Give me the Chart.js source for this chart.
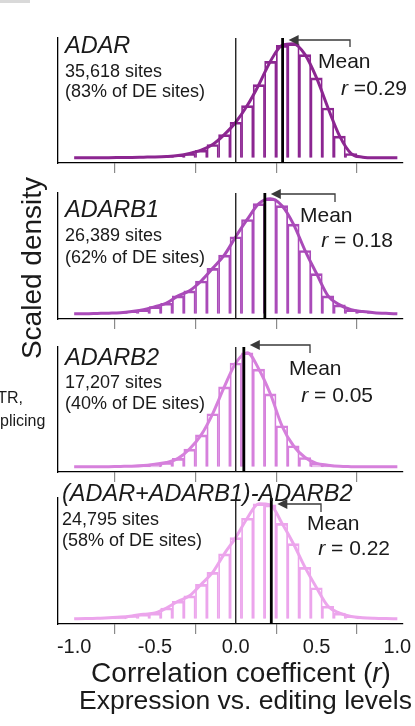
<!DOCTYPE html>
<html>
<head>
<meta charset="utf-8">
<script src="https://cdn.jsdelivr.net/npm/chart.js@4.4.1/dist/chart.umd.min.js"></script>
<style>
  html, body { margin: 0; padding: 0; background: #fff; }
  #wrap { position: relative; width: 415px; height: 726px; overflow: hidden; background: #fff; }
  #wrap canvas { position: absolute; left: 0; top: 0; }
</style>
</head>
<body>
<div id="wrap">
  <canvas id="p0" width="415" height="726"></canvas>
  <canvas id="p1" width="415" height="726"></canvas>
  <canvas id="p2" width="415" height="726"></canvas>
  <canvas id="p3" width="415" height="726"></canvas>
</div>
<script>
// Histogram bin centres (correlation coefficient r)
const binCenters = [-1.0, -0.929, -0.857, -0.786, -0.714, -0.643, -0.571, -0.5, -0.429, -0.357,
  -0.286, -0.214, -0.143, -0.071, 0, 0.071, 0.143, 0.214, 0.286, 0.357,
  0.429, 0.5, 0.571, 0.643, 0.714, 0.786, 0.857, 0.929, 1.0];

// Scaled densities per enzyme
const adar = [0, 0, 0, 0.002, 0.003, 0.004, 0.006, 0.008, 0.012, 0.02,
  0.038, 0.067, 0.117, 0.204, 0.312, 0.458, 0.641, 0.845, 0.985, 1.0,
  0.904, 0.70, 0.437, 0.19, 0.038, 0.006, 0, 0, 0];
const adarb1 = [0, 0, 0.003, 0.006, 0.01, 0.02, 0.035, 0.063, 0.092, 0.156,
  0.2, 0.285, 0.395, 0.51, 0.67, 0.82, 0.957, 1.0, 0.94, 0.78,
  0.55, 0.35, 0.156, 0.078, 0.035, 0.02, 0.01, 0.004, 0];
const adarb2 = [0, 0, 0, 0.002, 0.004, 0.006, 0.012, 0.024, 0.038, 0.074,
  0.156, 0.28, 0.465, 0.70, 0.91, 1.0, 0.856, 0.64, 0.36, 0.185,
  0.082, 0.03, 0.015, 0.005, 0.002, 0, 0, 0, 0];
const combined = [0, 0.002, 0.005, 0.01, 0.015, 0.025, 0.04, 0.05, 0.094, 0.153,
  0.2, 0.3, 0.403, 0.565, 0.706, 0.874, 1.0, 0.99, 0.83, 0.653,
  0.447, 0.27, 0.109, 0.05, 0.02, 0.01, 0.005, 0.002, 0];

const panelNames = ['ADAR', 'ADARB1', 'ADARB2', '(ADAR+ADARB1)-ADARB2'];
const siteCounts = ['35,618', '26,389', '17,207', '24,795'];
const sitePercents = [83, 62, 40, 58];
const meanR = [0.29, 0.18, 0.05, 0.22];
const xTicks = [-1.0, -0.5, 0, 0.5, 1.0];
const seriesList = [adar, adarb1, adarb2, combined];

const colors = ['#8c2691', '#aa4bb9', '#d680dc', '#eca5ec'];
const FONT = '"Liberation Sans", Arial, Helvetica, sans-serif';
const Y_MIN = -0.045, Y_MAX = 1.05;
const W = 415, H = 726;

// Panel placement and annotation anchors
const panels = [
  { top: 38,  bottom: 163, title: [65, 53],  sites: [65, 77],  pct: [65, 97],  mean: [318, 68],  r: [407, 95],  arrowY: 40,  bracketX: 350, drop: 7, eqSep: ' =' },
  { top: 193, bottom: 319, title: [65, 217], sites: [65, 241], pct: [65, 263], mean: [300, 222], r: [393, 247], arrowY: 194, bracketX: 335, drop: 8, eqSep: ' = ' },
  { top: 347, bottom: 472, title: [65, 365], sites: [65, 388], pct: [65, 409], mean: [289, 375], r: [373, 402], arrowY: 345, bracketX: 310, drop: 8, eqSep: ' = ' },
  { top: 498, bottom: 624, title: [62, 501], sites: [62, 525], pct: [62, 546], mean: [307, 530], r: [390, 555], arrowY: 504, bracketX: 321, drop: 8, eqSep: ' = ' }
];

// Panel labels, mean marker text and arrow
const annotate = {
  id: 'annotate',
  afterDatasetsDraw(chart, args, opts) {
    const i = opts.index;
    const L = panels[i];
    const ctx = chart.ctx;
    const xs = chart.scales.x;
    ctx.save();
    ctx.fillStyle = '#1a1a1a';
    ctx.textAlign = 'left';
    ctx.textBaseline = 'alphabetic';

    ctx.font = `italic 23.5px ${FONT}`;
    ctx.fillText(panelNames[i], L.title[0], L.title[1]);
    ctx.font = `18px ${FONT}`;
    ctx.fillText(`${siteCounts[i]} sites`, L.sites[0], L.sites[1]);
    ctx.fillText(`(${sitePercents[i]}% of DE sites)`, L.pct[0], L.pct[1]);

    ctx.font = `21px ${FONT}`;
    ctx.fillText('Mean', L.mean[0], L.mean[1]);
    const rest = L.eqSep + meanR[i].toFixed(2);
    const wRest = ctx.measureText(rest).width;
    ctx.font = `italic 21px ${FONT}`;
    const wR = ctx.measureText('r').width;
    const x0 = L.r[0] - wRest - wR;
    ctx.fillText('r', x0, L.r[1]);
    ctx.font = `21px ${FONT}`;
    ctx.fillText(rest, x0 + wR, L.r[1]);

    // bracket + arrow pointing at the mean line
    const tip = xs.getPixelForValue(meanR[i]) + 6;
    ctx.strokeStyle = '#3a3a3a';
    ctx.fillStyle = '#3a3a3a';
    ctx.lineWidth = 1.3;
    ctx.beginPath();
    ctx.moveTo(L.bracketX, L.arrowY + L.drop);
    ctx.lineTo(L.bracketX, L.arrowY);
    ctx.lineTo(tip + 8, L.arrowY);
    ctx.stroke();
    ctx.beginPath();
    ctx.moveTo(tip, L.arrowY);
    ctx.lineTo(tip + 10, L.arrowY - 5);
    ctx.lineTo(tip + 10, L.arrowY + 5);
    ctx.closePath();
    ctx.fill();
    ctx.restore();
  }
};

// Shared axis titles and side text
const pageText = {
  id: 'pageText',
  afterDraw(chart) {
    const ctx = chart.ctx;
    ctx.save();
    ctx.fillStyle = '#d9d9d9';
    ctx.fillRect(0, 0, 30, 3);

    ctx.fillStyle = '#1a1a1a';
    ctx.font = `16px ${FONT}`;
    ctx.textAlign = 'right';
    ctx.textBaseline = 'alphabetic';
    ctx.fillText('TR,', 23, 403);
    ctx.textAlign = 'left';
    ctx.fillText('plicing', 0, 426);

    ctx.save();
    ctx.translate(33, 268);
    ctx.rotate(-Math.PI / 2);
    ctx.font = `28px ${FONT}`;
    ctx.textAlign = 'center';
    ctx.textBaseline = 'middle';
    ctx.fillText('Scaled density', 0, 0);
    ctx.restore();

    // x-axis title, two lines, italic r
    ctx.font = `28px ${FONT}`;
    const a = 'Correlation coefficent (', c = ')';
    const wa = ctx.measureText(a).width, wc = ctx.measureText(c).width;
    ctx.font = `italic 28px ${FONT}`;
    const wb = ctx.measureText('r').width;
    let x = 241 - (wa + wb + wc) / 2;
    ctx.textAlign = 'left';
    ctx.font = `28px ${FONT}`;
    ctx.fillText(a, x, 682);
    ctx.font = `italic 28px ${FONT}`;
    ctx.fillText('r', x + wa, 682);
    ctx.font = `28px ${FONT}`;
    ctx.fillText(c, x + wa + wb, 682);
    ctx.textAlign = 'center';
    ctx.font = `26.5px ${FONT}`;
    ctx.fillText('Expression vs. editing levels', 245.5, 709);
    ctx.restore();
  }
};

function makePanel(i) {
  const L = panels[i];
  const values = seriesList[i];
  const pts = binCenters.map((x, j) => ({ x: x, y: values[j] }));
  const last = i === panels.length - 1;
  const axisH = last ? 40 : 10;
  return new Chart(document.getElementById('p' + i), {
    type: 'bar',
    data: {
      datasets: [
        { type: 'line', data: [{ x: 0, y: Y_MIN }, { x: 0, y: Y_MAX }], borderColor: '#111', borderWidth: 1.3, pointRadius: 0, order: -2 },
        { type: 'line', data: [{ x: meanR[i], y: Y_MIN }, { x: meanR[i], y: Y_MAX }], borderColor: '#000', borderWidth: 2.8, pointRadius: 0, order: -1 },
        { type: 'line', data: pts, borderColor: colors[i], borderWidth: 3, pointRadius: 0, cubicInterpolationMode: 'monotone', order: 0 },
        { type: 'bar', data: pts, borderColor: colors[i], backgroundColor: 'rgba(255,255,255,0)',
          borderWidth: { top: 2, left: 1.1, right: 1.1, bottom: 0 }, borderSkipped: false,
          barPercentage: 1, categoryPercentage: 1, grouped: false, order: 1 }
      ]
    },
    options: {
      responsive: false,
      animation: false,
      devicePixelRatio: 1,
      events: [],
      layout: { padding: { left: 58, right: 12, top: L.top, bottom: H - L.bottom - axisH } },
      plugins: { legend: { display: false }, tooltip: { enabled: false }, annotate: { index: i } },
      scales: {
        x: {
          type: 'linear', min: -1.1, max: 1.035, offset: false, bounds: 'data',
          afterBuildTicks: s => { s.ticks = xTicks.map(v => ({ value: v })); },
          afterFit: s => { s.height = axisH; },
          grid: { display: true, drawOnChartArea: false, drawTicks: true, tickLength: 10, color: '#8a8a8a', lineWidth: 1.2 },
          border: { display: true, color: '#000', width: 1.3 },
          ticks: { display: last, font: { family: FONT, size: 20 }, color: '#1a1a1a', padding: 1,
                   maxRotation: 0, autoSkip: false, callback: v => Number(v).toFixed(1) }
        },
        y: {
          min: Y_MIN, max: Y_MAX,
          afterFit: s => { s.width = 0; },
          grid: { display: false, drawTicks: false },
          border: { display: true, color: '#000', width: 1.3 },
          ticks: { display: false }
        }
      }
    },
    plugins: last ? [annotate, pageText] : [annotate]
  });
}

panels.forEach((p, i) => makePanel(i));
</script>
</body>
</html>
